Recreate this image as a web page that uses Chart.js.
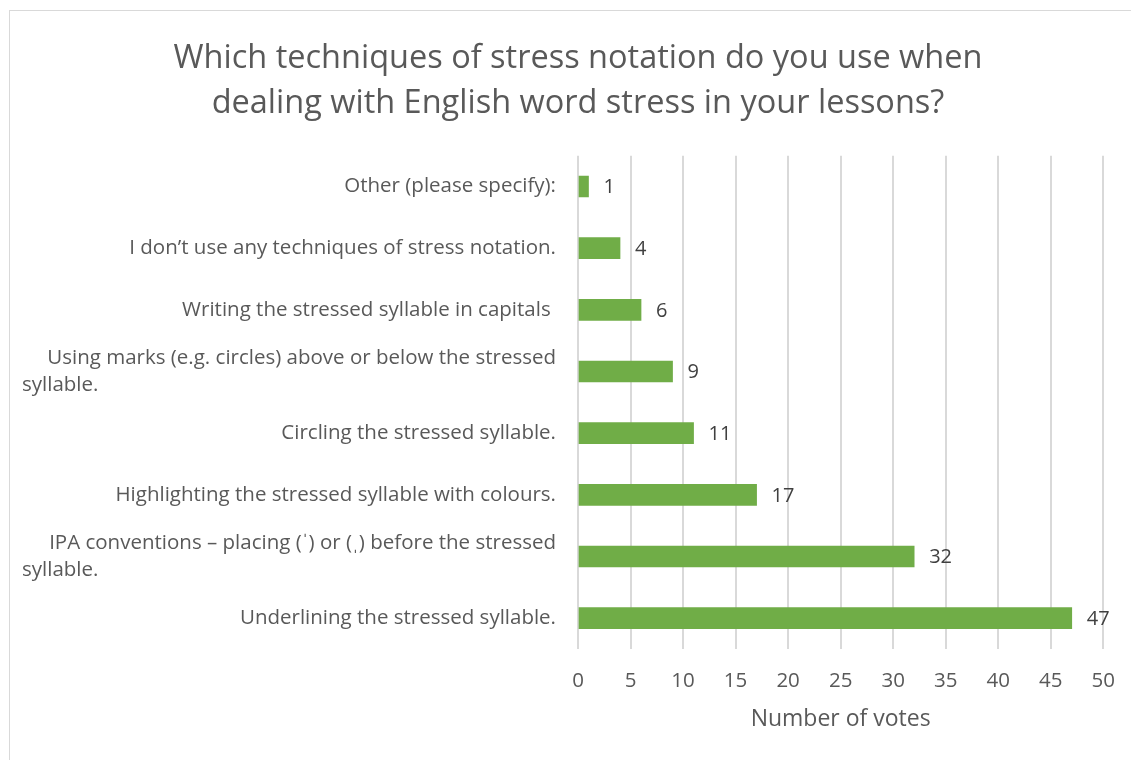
<!DOCTYPE html>
<html><head><meta charset="utf-8">
<script src="https://cdn.jsdelivr.net/npm/chart.js@4"></script>
<style>
html,body{margin:0;padding:0;background:#fff;overflow:hidden;}
#box{position:absolute;left:9px;top:10px;width:1140px;height:770px;border:1px solid #d9d9d9;background:#fff;}
#wrap{position:absolute;left:0;top:0;width:1125px;height:750px;}
</style></head>
<body>
<div id="box"><div id="wrap"><canvas id="c"></canvas></div></div>
<script>
const titleLines = ["Which techniques of stress notation do you use when", "dealing with English word stress in your lessons?"];
const categories = [
  ["Other (please specify):"],
  ["I don’t use any techniques of stress notation."],
  ["Writing the stressed syllable in capitals "],
  ["Using marks (e.g. circles) above or below the stressed", "syllable."],
  ["Circling the stressed syllable."],
  ["Highlighting the stressed syllable with colours."],
  ["IPA conventions – placing (ˈ) or (ˌ) before the stressed", "syllable."],
  ["Underlining the stressed syllable."]
];
const votes = [1, 4, 6, 9, 11, 17, 32, 47];
const xTicks = [0, 5, 10, 15, 20, 25, 30, 35, 40, 45, 50];
const xTitle = "Number of votes";

const FONT = "'Open Sans', sans-serif";
const TEXT = "#595959";

const labelPlugin = {
  id: 'labels',
  afterDatasetsDraw(chart) {
    const ctx = chart.ctx;
    const meta = chart.getDatasetMeta(0);
    const ys = chart.scales.y;
    ctx.save();
    ctx.font = "20px " + FONT;
    ctx.fillStyle = "#404040";
    ctx.textBaseline = "middle";
    ctx.textAlign = "left";
    meta.data.forEach((bar, i) => {
      ctx.fillText(String(votes[i]), bar.x + 15, bar.y + 1);
    });
    ctx.font = "20.5px " + FONT;
    ctx.fillStyle = TEXT;
    const right = chart.chartArea.left - 22;
    const leftX = 12;
    const lh = 27;
    categories.forEach((lines, i) => {
      const y = ys.getPixelForTick(i);
      const y0 = y - (lines.length - 1) * lh / 2;
      lines.forEach((ln, j) => {
        if (j === 0) { ctx.textAlign = "right"; ctx.fillText(ln, right, y0 + j * lh); }
        else { ctx.textAlign = "left"; ctx.fillText(ln, leftX, y0 + j * lh); }
      });
    });
    ctx.restore();
  }
};

new Chart(document.getElementById('c'), {
  type: 'bar',
  data: {
    labels: categories.map(l => l.join(' ')),
    datasets: [{
      data: votes,
      backgroundColor: '#70ad47',
      barThickness: 21,
      categoryPercentage: 1,
      barPercentage: 1
    }]
  },
  options: {
    indexAxis: 'y',
    responsive: true,
    maintainAspectRatio: false,
    animation: false,
    layout: { padding: { left: 36, right: 25, top: 12, bottom: 28 } },
    plugins: {
      legend: { display: false },
      tooltip: { enabled: false },
      title: {
        display: true,
        text: titleLines,
        color: TEXT,
        font: { family: FONT, size: 32.5, weight: 'normal', lineHeight: 1.38 },
        padding: { top: 13, bottom: 30 }
      }
    },
    scales: {
      x: {
        min: 0, max: 50,
        afterBuildTicks(scale) { scale.ticks = xTicks.map(v => ({ value: v })); },
        grid: { color: '#d9d9d9', lineWidth: 2, drawTicks: false },
        border: { display: false },
        ticks: { color: TEXT, font: { family: FONT, size: 20.5 }, padding: 20 },
        title: { display: true, text: xTitle, color: TEXT, font: { family: FONT, size: 23 }, padding: { top: 0, bottom: 0 } },
        afterFit(scale) { scale.height = 84; }
      },
      y: {
        grid: { display: false, drawTicks: false },
        border: { display: false },
        ticks: { display: false },
        afterFit(scale) { scale.width = 532; }
      }
    }
  },
  plugins: [labelPlugin]
});
</script>
</body></html>
